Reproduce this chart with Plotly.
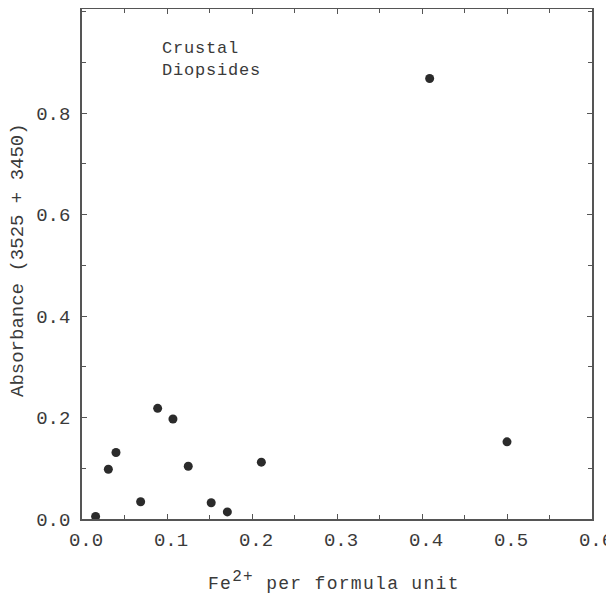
import plotly.graph_objects as go

fe2 = [0.016, 0.031, 0.040, 0.069, 0.089, 0.107, 0.125, 0.152, 0.171, 0.211, 0.409, 0.500]
absorbance = [0.005, 0.098, 0.131, 0.034, 0.218, 0.197, 0.104, 0.032, 0.014, 0.112, 0.868, 0.152]

x_ticks = [0.0, 0.1, 0.2, 0.3, 0.4, 0.5, 0.6]
x_labels = ["0.0", "0.1", "0.2", "0.3", "0.4", "0.5", "0.6"]
y_ticks = [0.0, 0.2, 0.4, 0.6, 0.8]
y_labels = ["0.0", "0.2", "0.4", "0.6", "0.8"]

FONT = "Liberation Mono"
INK = "#3a3a3a"

fig = go.Figure()
fig.add_trace(go.Scatter(
    x=fe2, y=absorbance, mode="markers",
    marker=dict(size=9, color="#2b2b2b"),
    cliponaxis=False, showlegend=False,
))

axis_common = dict(
    showgrid=False, zeroline=False, showline=True, linecolor="#555555", linewidth=1.5,
    mirror="ticks", ticks="inside", ticklen=5, tickcolor="#555555", tickwidth=1,
    tickfont=dict(family=FONT, size=19, color=INK), automargin=False,
)

fig.update_xaxes(
    range=[0, 0.6], tickvals=x_ticks, ticktext=x_labels,
    minor=dict(dtick=0.05, ticks="inside", ticklen=4, tickcolor="#555555"),
    ticklabelstandoff=2, ticklabelshift=4,
    **axis_common,
)
fig.update_yaxes(
    range=[0, 1.005], tickvals=y_ticks, ticktext=y_labels,
    minor=dict(dtick=0.1, ticks="inside", ticklen=4, tickcolor="#555555"),
    ticklabelstandoff=6,
    **axis_common,
)

fig.add_annotation(
    x=0.092, y=0.95, xref="x", yref="y", xanchor="left", yanchor="top", align="left",
    text="<span style='letter-spacing:0.8px'>Crustal<br>Diopsides</span>", showarrow=False,
    font=dict(family=FONT, size=17, color=INK),
)
fig.add_annotation(
    x=(18 - 82) / 510, y=(519 - 260) / 510, xref="paper", yref="paper",
    xanchor="center", yanchor="middle", textangle=-90,
    text="Absorbance (3525 + 3450)", showarrow=False,
    font=dict(family=FONT, size=19, color=INK),
)
fig.add_annotation(
    x=(334 - 82) / 510, y=-(581 - 519) / 510, xref="paper", yref="paper",
    xanchor="center", yanchor="middle",
    text="<span style='letter-spacing:1.3px'>Fe<sup><span style='font-size:16px'>2+</span></sup> per formula unit</span>",
    showarrow=False,
    font=dict(family=FONT, size=18, color=INK),
)

fig.update_layout(
    width=606, height=588,
    margin=dict(l=74, r=22, t=1, b=77),
    paper_bgcolor="white", plot_bgcolor="white",
)

fig.write_html("out.html")
